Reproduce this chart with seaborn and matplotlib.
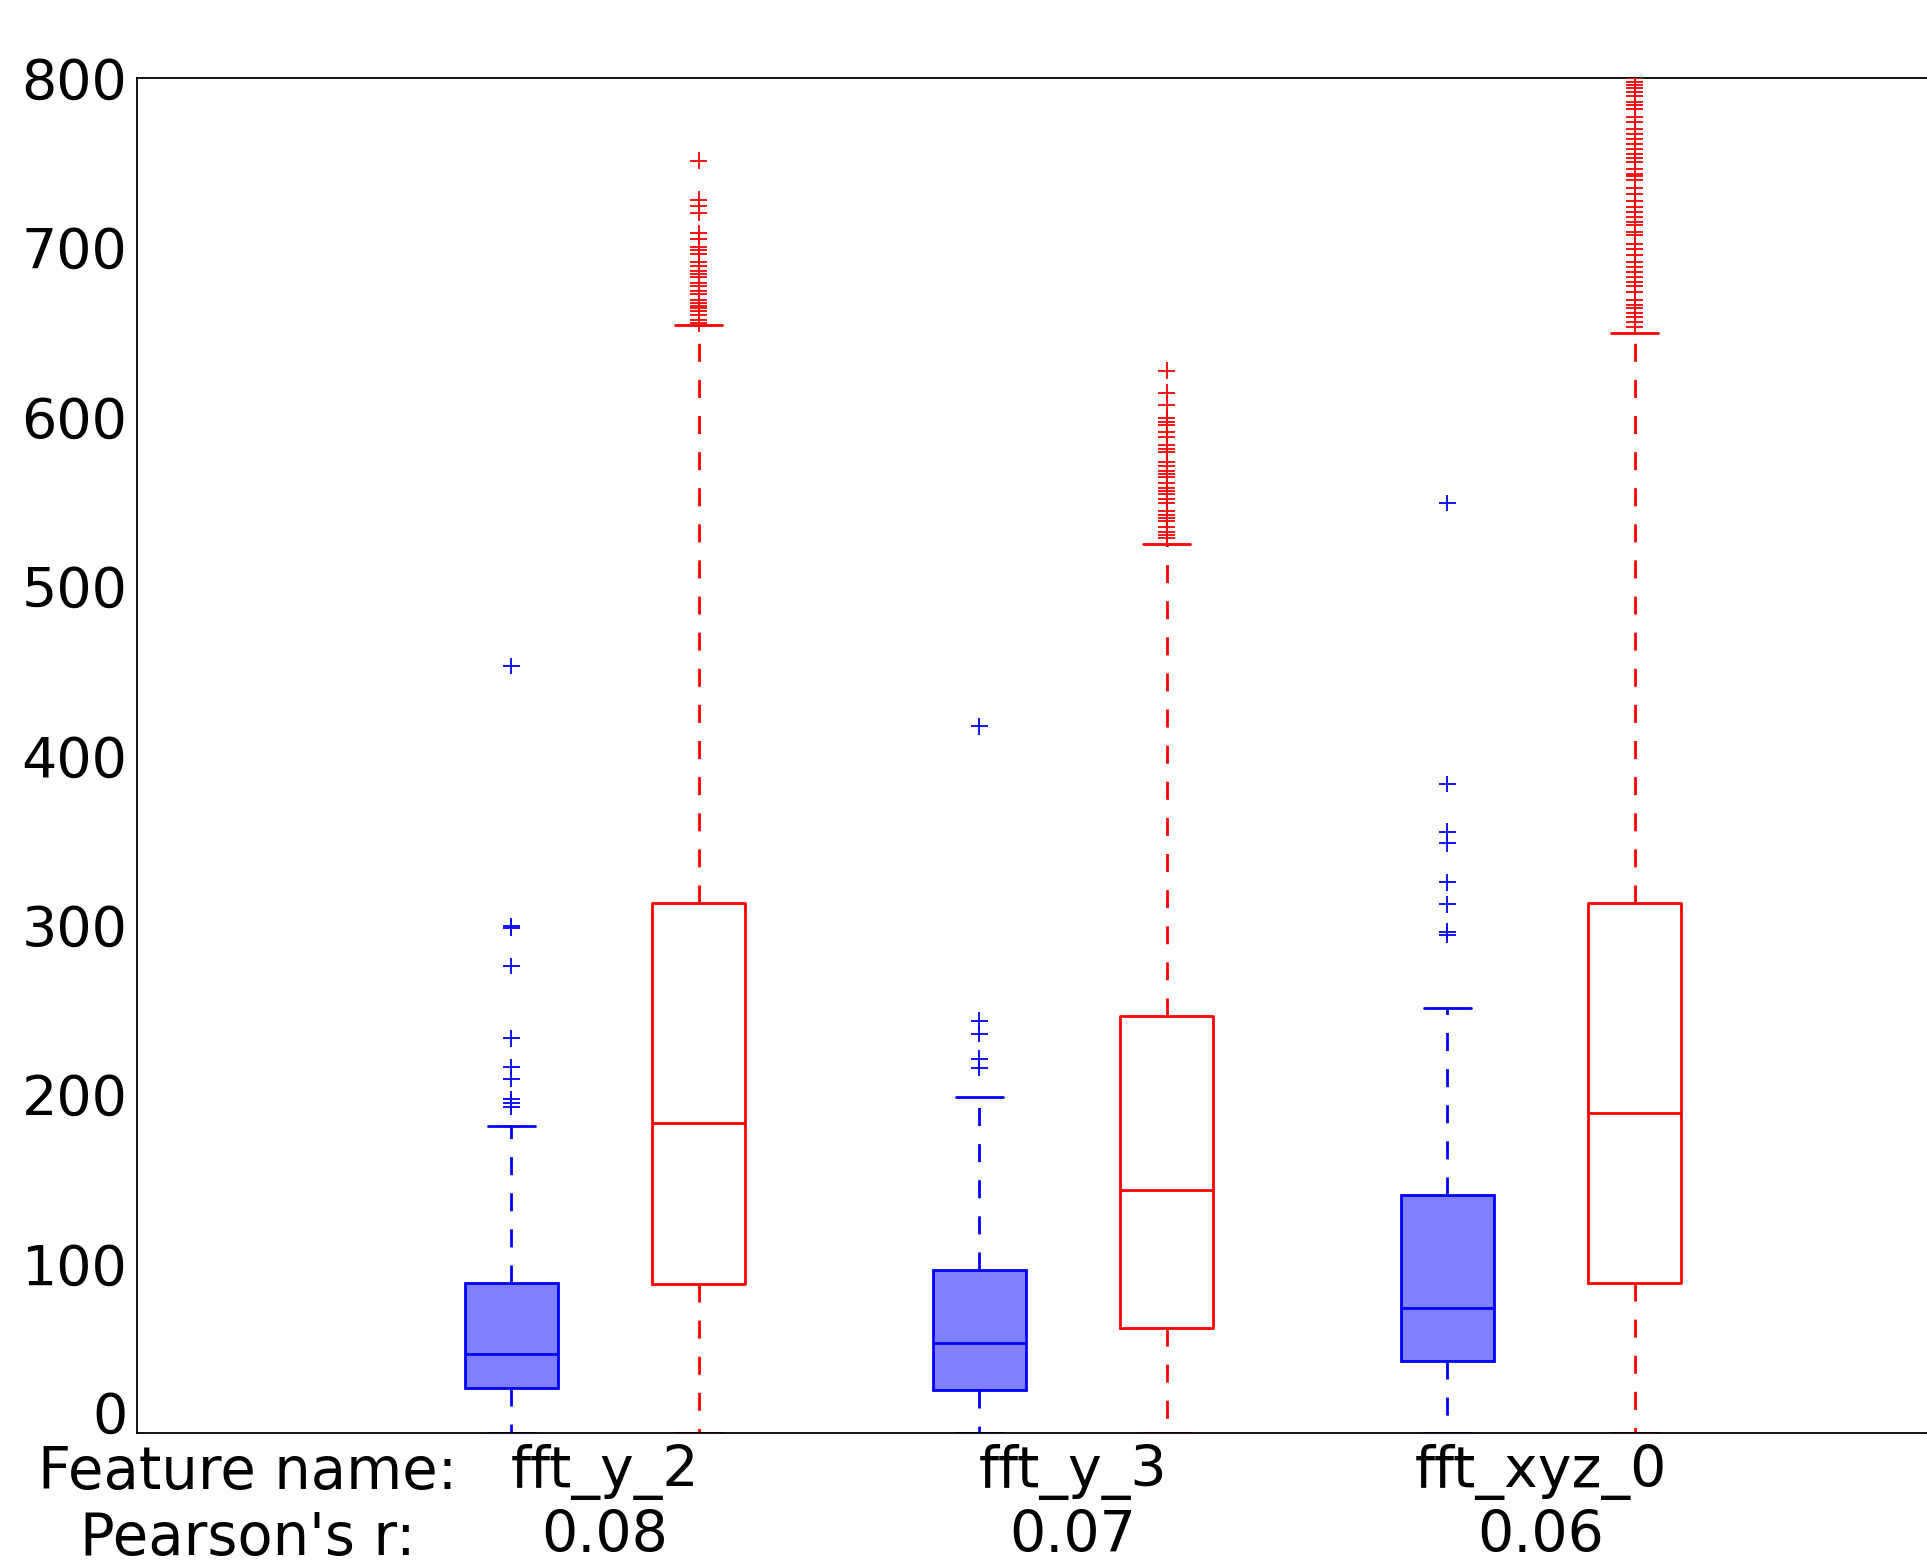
import numpy as np
import pandas as pd
import matplotlib
matplotlib.use("Agg")
import matplotlib.pyplot as plt
import seaborn as sns

features = ['fft_y_2', 'fft_y_3', 'fft_xyz_0']
pearson_r = [0.08, 0.07, 0.06]
classes = ['low', 'high']

# five number summaries: whisker low, q1, median, q3, whisker high
low_box = {
    'fft_y_2': [0, 26.4, 46.4, 88.7, 181],
    'fft_y_3': [0, 25.4, 52.9, 96.2, 198.5],
    'fft_xyz_0': [0, 42.8, 74, 140.7, 251],
}
high_box = {
    'fft_y_2': [0, 88, 183, 312.6, 654],
    'fft_y_3': [0, 62, 143.4, 246, 524.5],
    'fft_xyz_0': [0, 88.5, 188.6, 312.6, 649],
}

# outliers ('+' markers)
low_out = {
    'fft_y_2': [452.7, 299, 298, 275.6, 233, 216, 209, 197, 195, 192.6],
    'fft_y_3': [417, 243.4, 235.5, 221, 215.7],
    'fft_xyz_0': [549, 383, 355, 348, 325, 312, 296, 294],
}
high_out = {
    'fft_y_2': [751, 728, 724, 720, 708, 705, 700, 698, 696, 691, 689, 686, 684, 682,
                679, 677, 674, 672, 669, 667, 665, 664, 662, 660, 657, 655],
    'fft_y_3': [627, 614, 607, 599, 597, 595, 591, 588, 583, 581, 579, 573, 571, 568,
                566, 564, 561, 558, 556, 554, 551, 549, 544, 542, 540, 538, 535, 532,
                530, 528],
    'fft_xyz_0': [799.6, 797.6, 795.6, 793.7, 791.7, 789, 785.7, 783.8, 781.3, 776.5,
                  774, 769.5, 766.7, 764, 761, 757.6, 755, 752.8, 750, 746.3, 743.3,
                  741.7, 739.5, 734.6, 731, 727.3, 723.8, 720.8, 717.9, 715, 713, 709,
                  707, 702, 699, 695, 691, 688, 685, 682.5, 679.5, 677, 673.6, 668.7,
                  665.7, 663.8, 661.2, 658.8, 655.9, 653],
}


def to_long(d, cls):
    rows = []
    for f in features:
        for v in d[f]:
            rows.append({'feature': f, 'cls': cls, 'value': v})
    return pd.DataFrame(rows)


df_box = pd.concat([to_long(low_box, 'low'), to_long(high_box, 'high')], ignore_index=True)
df_out = pd.concat([to_long(low_out, 'low'), to_long(high_out, 'high')], ignore_index=True)

sns.set_style('white')
plt.rcParams['font.family'] = ['DejaVu Sans']
plt.rcParams['text.color'] = 'black'
plt.rcParams['xtick.color'] = 'black'
plt.rcParams['ytick.color'] = 'black'

fig = plt.figure(figsize=(19.27, 15.67), dpi=100)
ax = fig.add_axes([0.0711, 0.0855, 0.9715, 0.865])

dash = (0, (6.5, 6.5))
common = dict(x='feature', y='value', hue='cls', hue_order=classes, order=features,
              dodge=True, width=0.8, gap=0.5, whis=(0, 100), showfliers=False,
              saturation=1, linewidth=2, legend=False, ax=ax)

sns.boxplot(data=df_box[df_box['cls'] == 'low'], fill=True,
            palette={'low': '#8080ff', 'high': 'white'}, linecolor='blue',
            whiskerprops={'linestyle': dash}, **common)
sns.boxplot(data=df_box[df_box['cls'] == 'high'], fill=False,
            palette={'low': 'blue', 'high': 'red'},
            whiskerprops={'linestyle': dash}, **common)

sns.stripplot(data=df_out, x='feature', y='value', hue='cls', hue_order=classes,
              order=features, dodge=True, jitter=False, marker='+', size=12,
              linewidth=1.3, palette={'low': 'blue', 'high': 'red'},
              legend=False, ax=ax)

ax.set_xlim(-1, 3)
ax.set_ylim(0, 800)
ax.set_yticks(range(0, 801, 100))
ax.set_xticks(range(len(features)))
ax.set_xticklabels([f"{f}\n{r:.2f}" for f, r in zip(features, pearson_r)],
                   linespacing=1.2, color='black')
ax.set_xlabel('')
ax.set_ylabel('')
ax.tick_params(axis='x', direction='in', length=8, width=1, pad=8,
               labelsize=41)
ax.tick_params(axis='y', length=0, pad=7, labelsize=40)
ax.get_yticklabels()[0].set_va('baseline')
for sp in ax.spines.values():
    sp.set_color('black')
    sp.set_linewidth(1.3)

trans, va, ha = ax.get_xaxis_text1_transform(8)
ax.text(-0.763, 0, "Feature name:\nPearson's r:", transform=trans, va=va,
        ha='center', fontsize=41.5, linespacing=1.2, color='black')

fig.savefig('out.png', dpi=100)
